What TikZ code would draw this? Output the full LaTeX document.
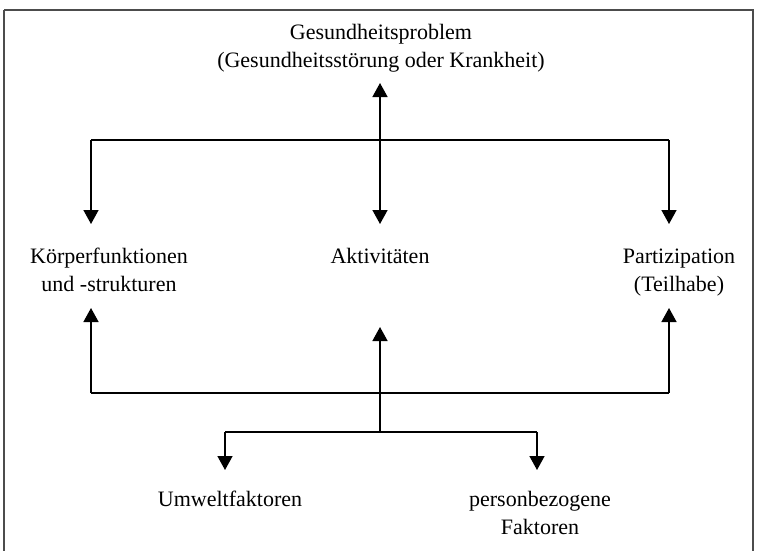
\documentclass[tikz,border=0pt]{standalone}
\usepackage{fontspec}
\setmainfont{Liberation Serif}
\usetikzlibrary{arrows.meta}

\begin{document}
\begin{tikzpicture}[x=1pt, y=-1pt,
	lbl/.style={align=center, inner sep=0pt, anchor=base, font=\fontsize{22}{28}\selectfont},
	arr/.style={-{Triangle[width=15pt,length=14pt]}},
	line width=1.5pt]
	\useasboundingbox (0,0) rectangle (757,550);
	\draw[gray!60!black] (4,10) -- (4,560) (4,10) -- (753,10) -- (753,560);
	% labels (base = last line)
	\node[lbl] (problem) at (381,67) {Gesundheitsproblem\\(Gesundheitsstörung oder Krankheit)};
	\node[lbl] (koerper) at (109,291) {Körperfunktionen\\und -strukturen};
	\node[lbl] (aktiv) at (380,263) {Aktivitäten};
	\node[lbl] (partiz) at (679,291) {Partizipation\\(Teilhabe)};
	\node[lbl] (umwelt) at (230,506) {Umweltfaktoren};
	\node[lbl] (person) at (540,534) {personbezogene\\Faktoren};
	% junctions
	\coordinate (topL) at (91,140);
	\coordinate (topM) at (380,140);
	\coordinate (topR) at (669,140);
	\coordinate (midL) at (91,393);
	\coordinate (midR) at (669,393);
	\coordinate (lowM) at (380,432);
	\coordinate (lowL) at (225,432);
	\coordinate (lowR) at (537,432);
	\draw
		(topL) -- (topR)
		(midL) -- (midR)
		(lowL) -- (lowR)
		;
	\draw[arr, shorten >=16pt] (topM) -- (topM |- problem.base);
	\draw[arr, shorten >=39pt] (topM) -- (topM |- aktiv.base);
	\draw[arr, shorten >=67pt] (topL) -- (topL |- koerper.base);
	\draw[arr, shorten >=67pt] (topR) -- (topR |- partiz.base);
	\draw[arr, shorten >=17pt] (midL) -- (midL |- koerper.base);
	\draw[arr, shorten >=17pt] (midR) -- (midR |- partiz.base);
	\draw[arr, shorten >=64pt] (lowM) -- (lowM |- aktiv.base);
	\draw[arr, shorten >=36pt] (lowL) -- (lowL |- umwelt.base);
	\draw[arr, shorten >=64pt] (lowR) -- (lowR |- person.base);
\end{tikzpicture}
\end{document}
